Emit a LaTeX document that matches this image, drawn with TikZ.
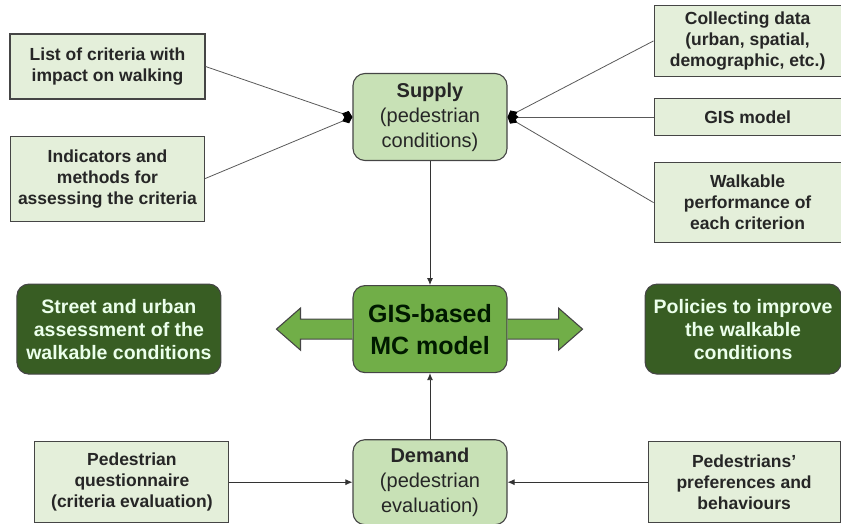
\documentclass[tikz,border=0pt]{standalone}
\usepackage{fontspec}
\setmainfont{Liberation Sans}
\usetikzlibrary{arrows.meta,positioning}
\definecolor{inGreen}{HTML}{E4EFDA}
\definecolor{midGreen}{HTML}{C8E1B6}
\definecolor{gisGreen}{HTML}{71AE48}
\definecolor{darkGreen}{HTML}{385D23}
\definecolor{edgeGray}{HTML}{454545}
\definecolor{inkGray}{HTML}{262626}

\begin{document}
\begin{tikzpicture}[x=1pt, y=-1pt,
    inbox/.style={draw=edgeGray, line width=1.1pt, fill=inGreen, align=center, inner sep=0pt, text=inkGray, minimum width=194pt, font=\bfseries\fontsize{17.5}{21}\selectfont},
    corebox/.style={draw=edgeGray, line width=1.1pt, rounded corners=12pt, fill=midGreen, align=center, inner sep=0pt, text=inkGray, minimum width=154pt, minimum height=87pt, font=\fontsize{20}{25}\selectfont},
    mcbox/.style={corebox, fill=gisGreen, text=black!90!green, font=\bfseries\fontsize{25}{32}\selectfont},
    outbox/.style={draw=edgeGray, line width=1.1pt, rounded corners=12pt, fill=darkGreen, text=white!92!green, align=center, inner sep=0pt, minimum height=90pt, font=\bfseries\fontsize{19.5}{23}\selectfont},
    feed/.style={-{Diamond[length=11pt,width=9pt,black]}, draw=gray!70!black, line width=0.8pt},
    arr/.style={-{Latex[length=7pt,width=6pt]}, line width=0.9pt, draw=black!80},
    bigarr/.style={draw=edgeGray, line width=1.1pt, fill=gisGreen, line join=miter}
  ]
    \useasboundingbox (0,0) rectangle (841,524);
    \node[corebox] (supply) at (430,117) {\textbf{Supply}\\(pedestrian\\conditions)};
    \node[mcbox, below=124pt of supply] (gis) {GIS-based\\MC model};
    \node[corebox, below=66pt of gis, minimum height=85pt] (demand) {\textbf{Demand}\\(pedestrian\\evaluation)};
    \node[outbox, left=131pt of gis, minimum width=204pt] (street) {Street and urban\\assessment of the\\walkable conditions};
    \node[outbox, right=137pt of gis, minimum width=196pt] (policies) {Policies to improve\\the walkable\\conditions};
    \node[inbox, minimum height=65pt, minimum width=195pt] (list) at (107.5,66.5) {List of criteria with\\impact on walking};
    \node[inbox, below=36pt of list, minimum height=85pt] (indic) {Indicators and\\methods for\\assessing the criteria};
    \node[inbox, right=146pt of supply, minimum height=37pt, minimum width=187pt] (gismodel) {GIS model};
    \node[inbox, above=21pt of gismodel, minimum height=71pt, minimum width=187pt] (collect) {Collecting data\\(urban, spatial,\\demographic, etc.)};
    \node[inbox, below=26pt of gismodel, minimum height=80pt, minimum width=187pt] (walk) {Walkable\\performance of\\each criterion};
    \node[inbox, left=123pt of demand, minimum height=81pt] (quest) {Pedestrian\\questionnaire\\(criteria evaluation)};
    \node[inbox, right=140pt of demand, minimum height=81pt, minimum width=192pt] (pref) {Pedestrians'\\preferences and\\behaviours};
    % inputs of the supply side
    \foreach \src in {list,indic}
      \draw[feed] (\src.east) -- (supply.west);
    \foreach \src in {collect,gismodel,walk}
      \draw[feed] (\src.west) -- (supply.east);
    \draw[arr] (supply) -- (gis);
    \draw[arr] (demand) -- (gis);
    \draw[arr] (quest) -- (demand);
    \draw[arr] (pref) -- (demand);
    % outputs of the model
    \draw[bigarr] (gis.west) ++(0,-10) -- ++(-52,0) -- ++(0,-11) -- ++(-24,21) -- ++(24,21) -- ++(0,-11) -- ++(52,0);
    \draw[bigarr] (gis.east) ++(0,-10) -- ++(51,0) -- ++(0,-11) -- ++(24,21) -- ++(-24,21) -- ++(0,-11) -- ++(-51,0);
  \end{tikzpicture}
\end{document}
